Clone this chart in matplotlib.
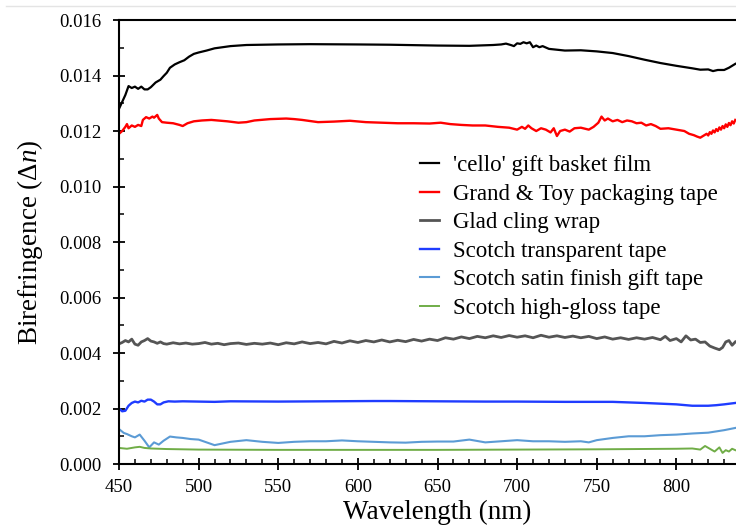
import matplotlib
matplotlib.use("Agg")
import matplotlib.pyplot as plt
from matplotlib.ticker import MultipleLocator, FormatStrFormatter, FixedLocator
from matplotlib.lines import Line2D

plt.rcParams['font.family'] = ['Liberation Serif']
plt.rcParams['mathtext.fontset'] = 'custom'
plt.rcParams['mathtext.rm'] = 'Liberation Serif'
plt.rcParams['mathtext.it'] = 'Liberation Serif:italic'

labels = ["'cello' gift basket film", "Grand & Toy packaging tape", "Glad cling wrap",
          "Scotch transparent tape", "Scotch satin finish gift tape", "Scotch high-gloss tape"]
colors = ["#000000", "#ff0000", "#555555", "#1f3cff", "#5b9bd5", "#70ad47"]
x_ticks = [450, 500, 550, 600, 650, 700, 750, 800]

cello_x = [450, 452, 454, 456, 458, 460, 462, 464, 466, 468, 470, 473, 476, 478, 480, 482, 485, 488,
           491, 494, 497, 500, 505, 510, 520, 530, 550, 570, 600, 620, 650, 670, 685, 690, 693, 696,
           698, 700, 702, 704, 706, 708, 710, 712, 714, 716, 720, 730, 740, 750, 760, 770, 780, 790,
           800, 810, 815, 820, 823, 826, 830, 833, 837]
cello_y = [0.01280, 0.01305, 0.01330, 0.01362, 0.01355, 0.01360, 0.01352, 0.01360, 0.01350, 0.01350,
           0.01358, 0.01375, 0.01385, 0.01398, 0.01410, 0.01428, 0.01440, 0.01448, 0.01455, 0.01468,
           0.01478, 0.01483, 0.01490, 0.01498, 0.01506, 0.01510, 0.01512, 0.01513, 0.01512, 0.01511,
           0.01508, 0.01507, 0.01510, 0.01512, 0.01515, 0.01510, 0.01506, 0.01516, 0.01514, 0.01520,
           0.01516, 0.01520, 0.01502, 0.01508, 0.01502, 0.01506, 0.01496, 0.01490, 0.01491, 0.01487,
           0.01481, 0.01470, 0.01457, 0.01445, 0.01435, 0.01426, 0.01421, 0.01422, 0.01416, 0.01420,
           0.01420, 0.01428, 0.01442]

grand_x = [450, 452, 454, 455, 456, 458, 460, 462, 464, 465, 467, 469, 471, 472, 474, 475, 477, 480,
           484, 488, 490, 493, 497, 502, 508, 512, 518, 525, 530, 535, 545, 555, 560, 565, 575, 585,
           595, 605, 615, 625, 635, 645, 652, 658, 665, 672, 680, 688, 695, 700, 703, 705, 707, 709,
           712, 715, 718, 721, 723, 725, 727, 730, 733, 736, 740, 745, 748, 751, 753, 755, 757, 760,
           763, 766, 769, 772, 775, 778, 781, 784, 787, 790, 795, 800, 805, 808, 811, 813, 815, 817,
           819, 820, 821, 822, 823, 824, 825, 826, 827, 828, 829, 830, 831, 832, 833, 834, 835, 836, 837]
grand_y = [0.01190, 0.01200, 0.01215, 0.01225, 0.01210, 0.01220, 0.01215, 0.01222, 0.01218, 0.01240,
           0.01250, 0.01245, 0.01252, 0.01248, 0.01258, 0.01245, 0.01232, 0.01230, 0.01228, 0.01222,
           0.01218, 0.01228, 0.01235, 0.01238, 0.01240, 0.01238, 0.01235, 0.01230, 0.01232, 0.01238,
           0.01243, 0.01245, 0.01243, 0.01240, 0.01232, 0.01234, 0.01237, 0.01232, 0.01230, 0.01228,
           0.01228, 0.01227, 0.01230, 0.01225, 0.01222, 0.01220, 0.01220, 0.01215, 0.01212, 0.01205,
           0.01215, 0.01208, 0.01220, 0.01210, 0.01200, 0.01210, 0.01205, 0.01195, 0.01210, 0.01182,
           0.01200, 0.01205, 0.01198, 0.01210, 0.01212, 0.01205, 0.01215, 0.01230, 0.01252, 0.01238,
           0.01245, 0.01235, 0.01240, 0.01232, 0.01238, 0.01235, 0.01228, 0.01230, 0.01220, 0.01225,
           0.01218, 0.01208, 0.01210, 0.01205, 0.01200, 0.01190, 0.01185, 0.01180, 0.01176, 0.01183,
           0.01190, 0.01184, 0.01196, 0.01190, 0.01202, 0.01195, 0.01207, 0.01200, 0.01213,
           0.01205, 0.01218, 0.01210, 0.01224, 0.01215, 0.01229, 0.01221, 0.01235, 0.01227, 0.01240]

glad_x = [450, 452, 454, 456, 458, 460, 462, 464, 466, 468, 470, 472, 474, 476, 478, 480, 484, 488,
          492, 496, 500, 504, 508, 512, 516, 520, 525, 530, 535, 540, 545, 550, 555, 560, 565, 570,
          575, 580, 585, 590, 595, 600, 605, 610, 615, 620, 625, 630, 635, 640, 645, 650, 655, 660,
          665, 670, 675, 680, 685, 690, 695, 700, 705, 710, 715, 720, 725, 730, 735, 740, 745, 750,
          755, 760, 765, 770, 775, 780, 785, 790, 793, 796, 800, 803, 806, 809, 812, 815, 818, 821,
          824, 827, 829, 831, 833, 835, 837]
glad_y = [0.00433, 0.00438, 0.00445, 0.00440, 0.00450, 0.00432, 0.00428, 0.00440, 0.00445, 0.00452,
          0.00443, 0.00440, 0.00435, 0.00440, 0.00434, 0.00432, 0.00437, 0.00433, 0.00436, 0.00432,
          0.00434, 0.00438, 0.00432, 0.00435, 0.00430, 0.00434, 0.00436, 0.00431, 0.00435, 0.00432,
          0.00436, 0.00430, 0.00437, 0.00433, 0.00440, 0.00434, 0.00438, 0.00433, 0.00442, 0.00436,
          0.00444, 0.00438, 0.00445, 0.00440, 0.00447, 0.00440, 0.00446, 0.00441, 0.00449, 0.00443,
          0.00450, 0.00445, 0.00455, 0.00450, 0.00458, 0.00452, 0.00460, 0.00455, 0.00462, 0.00456,
          0.00463, 0.00457, 0.00462, 0.00455, 0.00464, 0.00457, 0.00462, 0.00456, 0.00461, 0.00455,
          0.00460, 0.00452, 0.00458, 0.00450, 0.00455, 0.00449, 0.00455, 0.00450, 0.00456, 0.00448,
          0.00460, 0.00445, 0.00452, 0.00440, 0.00462, 0.00447, 0.00450, 0.00438, 0.00440, 0.00425,
          0.00418, 0.00412, 0.00420, 0.00440, 0.00445, 0.00428, 0.00440]

trans_x = [450, 452, 454, 456, 458, 460, 462, 464, 466, 468, 470, 472, 474, 476, 478, 481, 485, 490,
           500, 510, 520, 550, 580, 610, 620, 650, 680, 700, 730, 760, 780, 800, 810, 820, 825, 830, 837]
trans_y = [0.00200, 0.00190, 0.00192, 0.00210, 0.00220, 0.00225, 0.00222, 0.00228, 0.00225, 0.00232,
           0.00232, 0.00225, 0.00215, 0.00215, 0.00222, 0.00226, 0.00225, 0.00226, 0.00225, 0.00224,
           0.00226, 0.00225, 0.00226, 0.00227, 0.00227, 0.00226, 0.00225, 0.00225, 0.00224, 0.00224,
           0.00220, 0.00215, 0.00210, 0.00210, 0.00212, 0.00215, 0.00220]

satin_x = [450, 453, 455, 458, 460, 463, 466, 469, 472, 475, 478, 482, 486, 490, 495, 500, 505, 510,
           515, 520, 530, 540, 550, 560, 570, 580, 590, 600, 610, 620, 630, 640, 650, 660, 670, 680,
           690, 700, 710, 720, 730, 740, 745, 750, 760, 770, 780, 790, 800, 810, 820, 830, 837]
satin_y = [0.00126, 0.00112, 0.00108, 0.00100, 0.00096, 0.00106, 0.00084, 0.00060, 0.00078, 0.00070,
           0.00084, 0.00099, 0.00096, 0.00094, 0.00090, 0.00088, 0.00078, 0.00068, 0.00074, 0.00080,
           0.00086, 0.00080, 0.00076, 0.00080, 0.00082, 0.00082, 0.00085, 0.00082, 0.00080, 0.00078,
           0.00077, 0.00080, 0.00081, 0.00081, 0.00088, 0.00078, 0.00082, 0.00086, 0.00082, 0.00082,
           0.00080, 0.00082, 0.00078, 0.00086, 0.00094, 0.00100, 0.00100, 0.00104, 0.00106, 0.00110,
           0.00113, 0.00122, 0.00130]

gloss_x = [450, 455, 460, 463, 466, 470, 480, 500, 550, 600, 650, 700, 750, 800, 810, 815, 818, 821,
           824, 827, 829, 831, 833, 835, 837]
gloss_y = [0.00058, 0.00055, 0.00060, 0.00062, 0.00058, 0.00056, 0.00054, 0.00052, 0.00051, 0.00051,
           0.00051, 0.00052, 0.00053, 0.00055, 0.00056, 0.00052, 0.00065, 0.00055, 0.00045, 0.00060,
           0.00040, 0.00050, 0.00045, 0.00055, 0.00050]

series = [(cello_x, cello_y), (grand_x, grand_y), (glad_x, glad_y),
          (trans_x, trans_y), (satin_x, satin_y), (gloss_x, gloss_y)]
widths = [1.6, 1.7, 2.0, 1.7, 1.5, 1.4]

fig = plt.figure(figsize=(7.36, 5.27), dpi=100)
# axes runs past the right edge of the figure (reference is cropped there)
ax = fig.add_axes([119 / 736, 0.1195, (756 - 119) / 736, 0.8425])

for (x, y), c, lab, lw in zip(series, colors, labels, widths):
    ax.plot(x, y, color=c, lw=lw, label=lab)

ax.set_xlim(450, 850)
ax.set_ylim(0, 0.016)
ax.xaxis.set_major_locator(FixedLocator(x_ticks))
ax.xaxis.set_minor_locator(MultipleLocator(10))
ax.yaxis.set_major_locator(MultipleLocator(0.002))
ax.yaxis.set_minor_locator(MultipleLocator(0.001))
ax.yaxis.set_major_formatter(FormatStrFormatter('%.3f'))
ax.tick_params(which='major', direction='inout', length=9, width=1.3, labelsize=13.5)
ax.tick_params(axis='y', which='major', pad=8)
ax.tick_params(axis='x', which='major', pad=6)
ax.tick_params(which='minor', direction='in', length=3.5, width=1.1)
for s in ['left', 'bottom', 'top', 'right']:
    ax.spines[s].set_linewidth(1.5)

ax.set_xlabel('Wavelength (nm)', fontsize=19.5, labelpad=3)
ax.set_ylabel(r'Birefringence ($\Delta n$)', fontsize=19.5, labelpad=10)

leg = ax.legend(loc='upper left', bbox_to_anchor=(420 / 736, 1 - 155 / 527),
                bbox_transform=fig.transFigure, frameon=False, fontsize=16.5,
                handlelength=0.85, handletextpad=0.6, labelspacing=0.33, borderpad=0,
                borderaxespad=0)

fig.add_artist(Line2D([0.008, 1.0], [0.988, 0.988], color='#e4e4e4', lw=1, transform=fig.transFigure))

fig.savefig('out.png', dpi=100)
